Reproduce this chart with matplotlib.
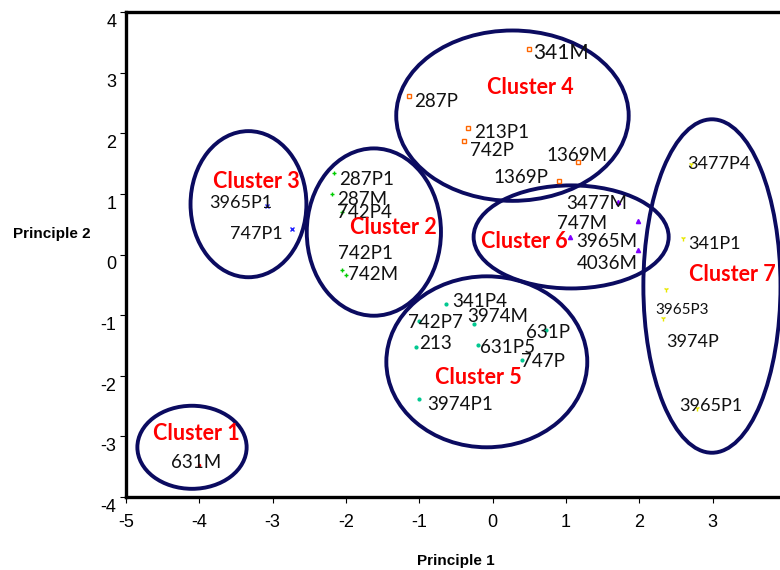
import matplotlib
matplotlib.use("Agg")
import matplotlib.pyplot as plt
from matplotlib.patches import Ellipse
from matplotlib.transforms import ScaledTranslation

plt.rcParams["axes.unicode_minus"] = False

# ---- data -------------------------------------------------------------
c1_names = ["631M"]
c1_x = [-4.01]
c1_y = [-3.48]

c2_names = ["287P1", "287M", "742P4", "742P1", "742M"]
c2_x = [-2.17, -2.19, -2.05, -2.06, -2.00]
c2_y = [1.35, 1.00, 0.70, -0.25, -0.33]

c3_names = ["3965P1", "747P1"]
c3_x = [-3.08, -2.74]
c3_y = [0.80, 0.42]

c4_names = ["341M", "287P", "213P1", "742P", "1369M", "1369P"]
c4_x = [0.50, -1.14, -0.34, -0.39, 1.16, 0.90]
c4_y = [3.39, 2.62, 2.09, 1.88, 1.52, 1.22]

c5_names = ["341P4", "742P7", "3974M", "631P", "213", "631P5", "747P", "3974P1"]
c5_x = [-0.64, -1.00, -0.26, 0.73, -1.05, -0.20, 0.40, -1.01]
c5_y = [-0.81, -1.10, -1.15, -1.25, -1.53, -1.49, -1.74, -2.39]

c6_names = ["3477M", "747M", "3965M", "4036M"]
c6_x = [1.71, 1.98, 1.06, 1.98]
c6_y = [0.87, 0.55, 0.29, 0.07]

c7_names = ["3477P4", "341P1", "3965P3", "3974P", "3965P1"]
c7_x = [2.70, 2.59, 2.37, 2.32, 2.78]
c7_y = [1.49, 0.27, -0.57, -1.05, -2.54]

cluster_names = ["Cluster 1", "Cluster 2", "Cluster 3", "Cluster 4",
                 "Cluster 5", "Cluster 6", "Cluster 7"]
ell_cx = [-4.10, -1.62, -3.33, 0.27, -0.08, 1.07, 2.99]
ell_cy = [-3.18, 0.37, 0.83, 2.29, -1.77, 0.29, -0.52]
ell_w = [1.49, 1.83, 1.58, 3.17, 2.74, 2.66, 1.87]
ell_h = [1.37, 2.76, 2.41, 2.81, 2.82, 1.70, 5.50]

x_ticks = [-5, -4, -3, -2, -1, 0, 1, 2, 3]
y_ticks = [-4, -3, -2, -1, 0, 1, 2, 3, 4]

# ---- styles / layout ---------------------------------------------------
# label offsets in pixels (dx, dy) from marker to label's left/center
c1_off = [(-28, 3)]
c2_off = [(6, -7), (5, -6), (-5, 0), (-4, 16), (2, 0)]
c3_off = [(-58, 3), (-62, -5)]
c4_off = [(4, -4), (5, -6), (6, -5), (6, -10), (-31, 7), (-65, 3)]
c5_off = [(6, 2), (-11, -1), (-6, 8), (-20, -2), (3, 4), (2, -3), (-1, -2), (9, -5)]
c6_off = [(-52, -2), (-81, -2), (6, -5), (-61, -13)]
c7_off = [(-3, 0), (6, -6), (-11, -21), (3, -24), (-17, 2)]

c4_fs = [15, 13.5, 13.5, 13.5, 13.5, 13.5]
c7_fs = [13, 13, 11, 13, 13]

clabel_px = [(196, 433), (393, 228), (256, 182), (530, 88),
             (478, 377), (524, 242), (732, 275)]

fig = plt.figure(figsize=(7.8, 5.7), dpi=100)
W, H = 780, 570
left_px, right_px, top_px, bot_px = 126, 786, 12, 497
ax = fig.add_axes([left_px / W, 1 - bot_px / H,
                   (right_px - left_px) / W, (bot_px - top_px) / H])
ax.set_xlim(-5, 4)
ax.set_ylim(-4, 4)

for s in ["left", "bottom", "top"]:
    ax.spines[s].set_linewidth(2.4)
ax.spines["right"].set_visible(False)

ax.set_xticks(x_ticks)
ax.set_yticks(y_ticks)
ax.tick_params(direction="out", length=4, width=0.8, labelsize=13, pad=3)
ax.tick_params(axis="x", pad=8)
for lab in ax.get_xticklabels() + ax.get_yticklabels():
    lab.set_fontfamily("Liberation Sans")
off = ScaledTranslation(0, -6 / 72, fig.dpi_scale_trans)
for lab in ax.get_yticklabels():
    lab.set_transform(lab.get_transform() + off)

label_font = "Lato"

def draw(names, xs, ys, offs, color, marker, ms, mfc=None, fss=None, mew=1.0):
    ax.plot(xs, ys, linestyle="none", marker=marker, markersize=ms,
            color=color, markerfacecolor=(mfc if mfc is not None else color),
            markeredgewidth=mew, zorder=3)
    for i, (n, x, y) in enumerate(zip(names, xs, ys)):
        fs = fss[i] if fss is not None else 13.5
        ax.annotate(n, (x, y), xytext=offs[i], textcoords="offset pixels",
                    ha="left", va="center", fontsize=fs, family=label_font,
                    color="#111111", zorder=4)

draw(c1_names, c1_x, c1_y, c1_off, "#FF0000", "o", 1.5)
draw(c2_names, c2_x, c2_y, c2_off, "#00CC00", "+", 2.5)
draw(c3_names, c3_x, c3_y, c3_off, "#2020FF", "x", 2.5, fss=[13, 13])
draw(c4_names, c4_x, c4_y, c4_off, "#FF6600", "s", 3.5, mfc="none", fss=c4_fs)
draw(c5_names, c5_x, c5_y, c5_off, "#00C890", "o", 2)
draw(c6_names, c6_x, c6_y, c6_off, "#8000FF", "^", 3)
draw(c7_names, c7_x, c7_y, c7_off, "#E8E800", "1", 4, fss=c7_fs)

for cx, cy, w, h in zip(ell_cx, ell_cy, ell_w, ell_h):
    ax.add_patch(Ellipse((cx, cy), w, h, fill=False, edgecolor="#0B0B60",
                         linewidth=2.8, zorder=2, clip_on=False))

for name, (px, py) in zip(cluster_names, clabel_px):
    fig.text(px / W, 1 - py / H, name, ha="center", va="center",
             fontsize=15.5, fontweight="bold", color="#FF0000",
             family=label_font, zorder=5)

fig.text(456 / W, 1 - 561 / H, "Principle 1", ha="center", va="center",
         fontsize=11, fontweight="bold", family="Liberation Sans")
fig.text(52 / W, 1 - 234 / H, "Principle 2", ha="center", va="center",
         fontsize=11, fontweight="bold", family="Liberation Sans")

fig.savefig("out.png", dpi=100)
